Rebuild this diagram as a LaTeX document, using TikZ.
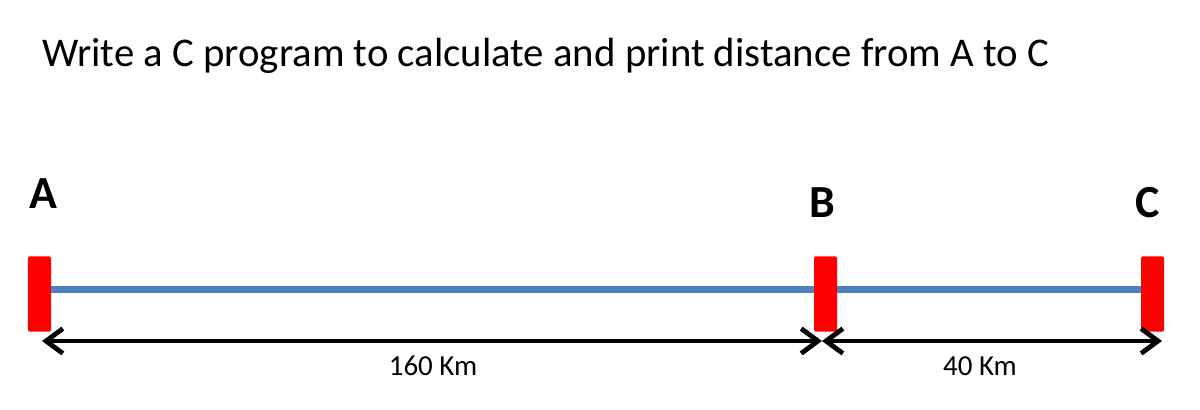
\documentclass[tikz,border=0pt]{standalone}
\usepackage{fontspec}
\setmainfont{Carlito}
\usepackage{xcolor}
\usetikzlibrary{arrows.meta,positioning,calc}
\definecolor{lineblue}{RGB}{79,129,189}
\definecolor{barred}{RGB}{255,0,0}

\begin{document}
\begin{tikzpicture}[
    x=0.025cm, y=-0.025cm,
    bar/.style={rectangle, fill=barred, draw=none, rounded corners=1pt, minimum width=0.575cm, minimum height=1.875cm, inner sep=0pt},
    point/.style={font=\fontsize{32.7}{36}\selectfont\bfseries, anchor=base, inner sep=0pt},
    dist/.style={font=\fontsize{20.6}{24}\selectfont, anchor=base, inner sep=0pt},
    road/.style={line width=0.175cm, lineblue},
    span/.style={line width=0.12cm, black, {Straight Barb[length=0.42cm, width=0.62cm, line width=0.12cm]}-{Straight Barb[length=0.42cm, width=0.62cm, line width=0.12cm]}}
]
    \useasboundingbox (0,0) rectangle (1200,409);

    % Question
    \node[anchor=base west, inner sep=0pt, font=\fontsize{29}{33}\selectfont] (title) at (42,66) {Write a C program to calculate and print distance from A to C};

    % Road with the three points
    \node[bar] (barA) at (39.5,294) {};
    \node[bar] (barB) at (825.5,294) {};
    \node[bar] (barC) at (1152.5,294) {};
    \draw[road] (barA.east |- 0,289.5) -- (barB.west |- 0,289.5);
    \draw[road] (barB.east |- 0,289.5) -- (barC.west |- 0,289.5);

    \node[point] (labA) at (43,208) {A};
    \node[point] (labB) at (822,217) {B};
    \node[point] (labC) at (1148,217) {C};

    % Distances
    \coordinate (dA) at (42,341);
    \coordinate (dB) at (822,341);
    \coordinate (dC) at (1162,341);
    \draw[span] (dA) -- (dB);
    \draw[span] (dB) -- (dC);

    \node[dist] (dAB) at (433,375) {160 Km};
    \node[dist] (dBC) at (980,375) {40 Km};
\end{tikzpicture}
\end{document}
